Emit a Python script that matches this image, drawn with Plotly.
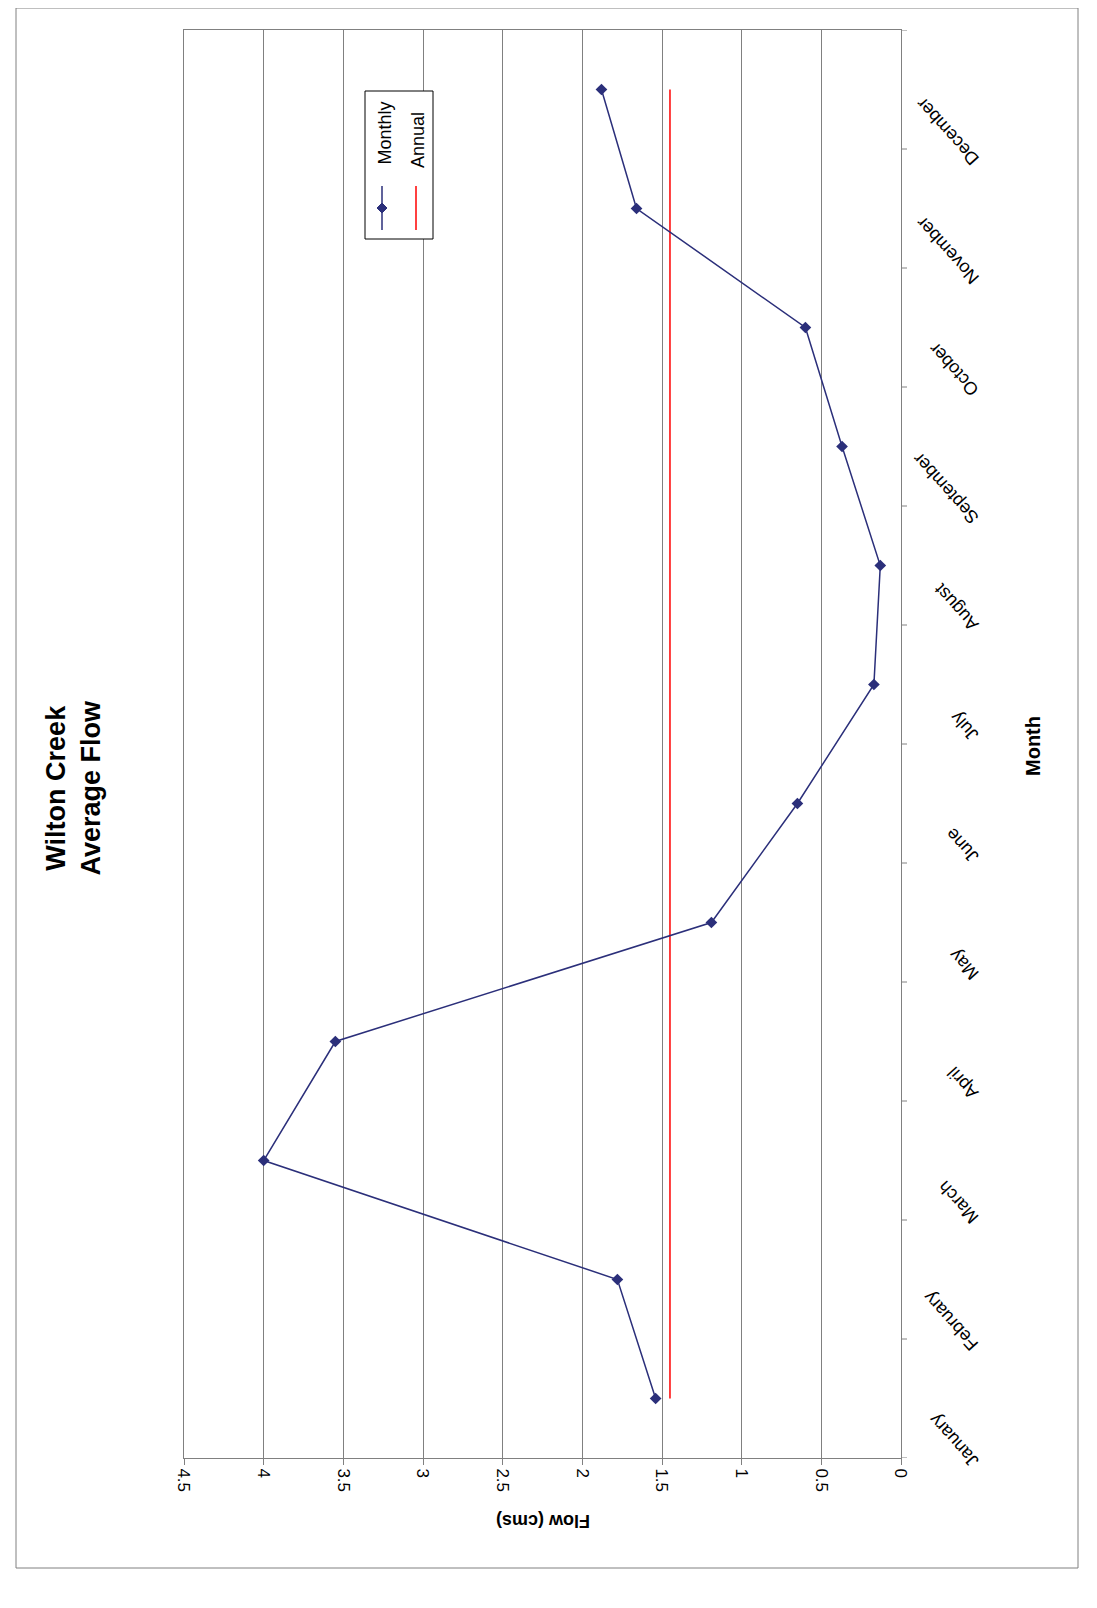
import plotly.graph_objects as go

months = ["January","February","March","April","May","June","July","August","September","October","November","December"]
monthly = [1.54,1.78,4.0,3.55,1.19,0.65,0.17,0.13,0.37,0.60,1.66,1.88]
annual = [1.45]*12
xticks = [0,0.5,1,1.5,2,2.5,3,3.5,4,4.5]

navy = "#2B2F7A"
fig = go.Figure()
fig.add_trace(go.Scatter(x=annual, y=months, mode="lines", line=dict(color="#FF0000", width=1.5), name="Annual"))
fig.add_trace(go.Scatter(x=monthly, y=months, mode="lines+markers", line=dict(color=navy, width=1.5),
                         marker=dict(symbol="diamond", size=9, color=navy), name="Monthly"))

L, R, T, B = 176, 204, 22, 158
W, H = 1097, 1608
pw, ph = W-L-R, H-T-B
def px(x): return (x-L)/pw
def py(y): return 1-(y-T)/ph

fig.update_layout(
    width=W, height=H, margin=dict(l=L, r=R, t=T, b=B),
    paper_bgcolor="white", plot_bgcolor="white", showlegend=False,
    font=dict(family="Liberation Sans, Arial", size=17, color="black"),
    xaxis=dict(range=[4.5,0], tickvals=xticks, ticktext=[f"{v:g}" for v in xticks], tickangle=90,
               showgrid=True, gridcolor="#808080", gridwidth=1, showline=True, linecolor="#808080",
               ticks="outside", ticklen=6, tickcolor="#808080", zeroline=False, mirror=True),
    yaxis=dict(type="category", categoryarray=months, range=[-0.5,11.5], side="right",
               showticklabels=False, showgrid=False, showline=True, linecolor="#808080", ticks="",
               zeroline=False, mirror=True),
)
for m in months:
    fig.add_annotation(xref="paper", yref="y", x=px(977), y=m, yshift=-42, text=m, textangle=-132,
                       showarrow=False, font=dict(size=18))
for i in range(13):
    fig.add_shape(type="line", xref="paper", yref="y", x0=1, x1=1+6/pw, y0=i-0.5, y1=i-0.5,
                  line=dict(color="#808080", width=1))
fig.add_shape(type="rect", xref="paper", yref="paper", x0=px(8), x1=px(1070), y0=py(0), y1=py(1560),
              line=dict(color="#808080", width=1))
fig.add_annotation(xref="paper", yref="paper", x=px(30), y=py(780), text="<b>Wilton Creek<br>Average Flow</b>",
                   textangle=-90, showarrow=False, font=dict(size=27))
fig.add_annotation(xref="paper", yref="paper", x=px(1038), y=py(738), text="<b>Month</b>",
                   textangle=-90, showarrow=False, font=dict(size=20))
fig.add_annotation(xref="paper", yref="paper", x=px(535), y=py(1525), text="<b>Flow (cms)</b>",
                   textangle=180, showarrow=False, font=dict(size=18))
# legend
fig.add_shape(type="rect", xref="paper", yref="paper", x0=px(357), x1=px(425), y0=py(83), y1=py(231),
              line=dict(color="black", width=1), fillcolor="white")
fig.add_shape(type="line", xref="paper", yref="paper", x0=px(374), x1=px(374), y0=py(178), y1=py(222),
              line=dict(color=navy, width=1.5))
fig.add_shape(type="line", xref="paper", yref="paper", x0=px(408), x1=px(408), y0=py(178), y1=py(222),
              line=dict(color="#FF0000", width=1.5))
cx, cy, d = px(374), py(200), 5
fig.add_shape(type="path", xref="paper", yref="paper",
              path=f"M {cx},{cy+d/ph} L {cx+d/pw},{cy} L {cx},{cy-d/ph} L {cx-d/pw},{cy} Z",
              fillcolor=navy, line=dict(color=navy, width=1))
fig.add_annotation(xref="paper", yref="paper", x=px(364), y=py(92), text="Monthly", textangle=-90,
                   showarrow=False, font=dict(size=18))
fig.add_annotation(xref="paper", yref="paper", x=px(398), y=py(102), text="Annual", textangle=-90,
                   showarrow=False, font=dict(size=18))
fig.write_html("out.html")
